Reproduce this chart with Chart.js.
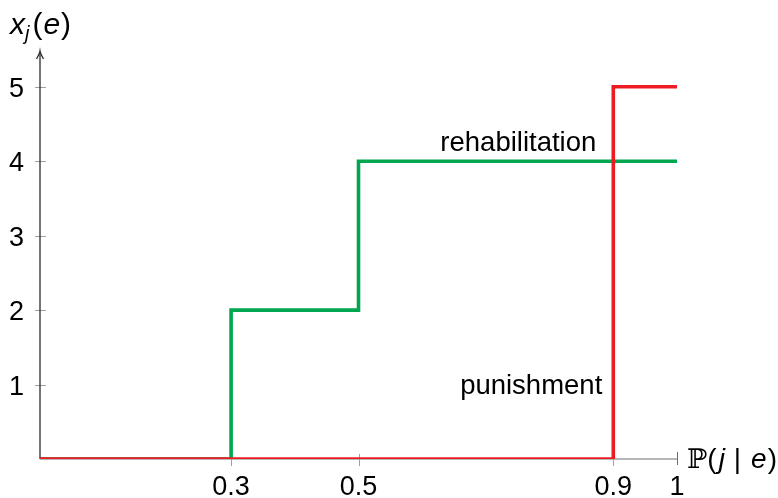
<!DOCTYPE html>
<html>
<head>
<meta charset="utf-8">
<script src="https://cdn.jsdelivr.net/npm/chart.js@4"></script>
<style>
  html, body { margin: 0; padding: 0; background: #ffffff; }
  #chart { display: block; }
</style>
</head>
<body>
<canvas id="chart" width="778" height="498"></canvas>
<script>
// Step breakpoints (probability of guilt) and the sanction level on each step
const rehabBreaks = [0, 0.3, 0.5, 1];
const rehabilitation = [0, 2, 4, 4];
const punishBreaks = [0, 0.9, 1];
const punishment = [0, 5, 5];

// Axis ticks
const xTickValues = [0.3, 0.5, 0.9, 1];
const xTickLabels = ['0.3', '0.5', '0.9', '1'];
const yTickValues = [1, 2, 3, 4, 5];
const yTickLabels = ['1', '2', '3', '4', '5'];

const RED = '#ed1c24';
const GREEN = '#00a650';
const FONT = '"Liberation Sans", Arial, sans-serif';

const toPoints = (xs, ys) => xs.map((x, i) => ({ x: x, y: ys[i] }));

// Axes, ticks, arrow and axis titles drawn on the library's scales
const axesPlugin = {
  id: 'axes',
  beforeDatasetsDraw(chart) {
    const { ctx, chartArea, scales } = chart;
    const xs = scales.x, ys = scales.y;
    const x0 = xs.getPixelForValue(0);
    const y0 = ys.getPixelForValue(0);
    const x1 = xs.getPixelForValue(1);
    ctx.save();
    // x axis
    ctx.strokeStyle = '#6e6e6e';
    ctx.lineWidth = 1.2;
    ctx.beginPath();
    ctx.moveTo(x0, y0);
    ctx.lineTo(x1, y0);
    ctx.stroke();
    // x ticks
    ctx.lineWidth = 1;
    xTickValues.forEach(v => {
      const px = Math.round(xs.getPixelForValue(v)) + 0.5;
      ctx.beginPath();
      if (v === 1) {
        ctx.strokeStyle = '#6e6e6e';
        ctx.moveTo(px, y0 - 7);
        ctx.lineTo(px, y0 + 6);
      } else {
        ctx.strokeStyle = '#a0a0a0';
        ctx.moveTo(px, y0 - 5);
        ctx.lineTo(px, y0 + 7);
      }
      ctx.stroke();
    });
    // y ticks
    ctx.strokeStyle = '#a0a0a0';
    yTickValues.forEach(v => {
      const py = Math.round(ys.getPixelForValue(v)) + 0.5;
      ctx.beginPath();
      ctx.moveTo(x0 - 5, py);
      ctx.lineTo(x0 + 6, py);
      ctx.stroke();
    });
    // y axis with arrow
    const top = chartArea.top - 6;
    ctx.strokeStyle = '#2a2a2a';
    ctx.lineWidth = 1.3;
    ctx.beginPath();
    ctx.moveTo(x0, y0);
    ctx.lineTo(x0, top + 1);
    ctx.stroke();
    ctx.beginPath();
    ctx.moveTo(x0 - 3.5, top + 8);
    ctx.quadraticCurveTo(x0 - 0.5, top + 3, x0, top);
    ctx.quadraticCurveTo(x0 + 0.5, top + 3, x0 + 3.5, top + 8);
    ctx.stroke();
    ctx.restore();
  },
  afterDraw(chart) {
    const { ctx, scales } = chart;
    const xs = scales.x, ys = scales.y;
    const x0 = xs.getPixelForValue(0);
    const y0 = ys.getPixelForValue(0);
    ctx.save();
    ctx.fillStyle = '#000000';
    // tick labels
    ctx.font = '27px ' + FONT;
    ctx.textAlign = 'center';
    ctx.textBaseline = 'alphabetic';
    xTickValues.forEach((v, i) => {
      ctx.fillText(xTickLabels[i], xs.getPixelForValue(v), y0 + 36);
    });
    ctx.textAlign = 'right';
    yTickValues.forEach((v, i) => {
      ctx.fillText(yTickLabels[i], x0 - 16, ys.getPixelForValue(v) + 10);
    });

    // series labels
    ctx.font = '27.5px ' + FONT;
    ctx.textAlign = 'right';
    ctx.fillText('rehabilitation', xs.getPixelForValue(0.9) - 17, ys.getPixelForValue(4) - 10);
    ctx.fillText('punishment', xs.getPixelForValue(0.9) - 11, ys.getPixelForValue(1) + 9);

    // axis titles
    ctx.textAlign = 'left';
    let cx = 10;
    const ty = 34;
    const put = (txt, font, dy) => {
      ctx.font = font;
      ctx.fillText(txt, cx, ty + (dy || 0));
      cx += ctx.measureText(txt).width;
    };
    put('x', 'italic 30px ' + FONT);
    put('j', 'italic 20px ' + FONT, 6);
    cx += 3;
    put('(', '30px ' + FONT);
    cx += 1;
    put('e', 'italic 30px ' + FONT);
    cx += 1;
    put(')', '30px ' + FONT);

    cx = 687;
    const by = y0 + 9;
    put('\u2119', '27px "DejaVu Serif", serif', by - ty);
    put('(', '28px ' + FONT, by - ty);
    cx += 2;
    put('j', 'italic 28px ' + FONT, by - ty);
    cx += 9;
    put('|', '28px ' + FONT, by - ty);
    cx += 10;
    put('e', 'italic 28px ' + FONT, by - ty);
    cx += 1;
    put(')', '28px ' + FONT, by - ty);
    ctx.restore();
  }
};

new Chart(document.getElementById('chart'), {
  type: 'line',
  data: {
    datasets: [
      {
        label: 'rehabilitation',
        data: toPoints(rehabBreaks, rehabilitation),
        borderColor: GREEN,
        borderWidth: 3.6,
        stepped: 'before',
        pointRadius: 0,
        fill: false,
        order: 2
      },
      {
        label: 'punishment',
        data: toPoints(punishBreaks, punishment),
        borderColor: RED,
        borderWidth: 3.6,
        stepped: 'before',
        pointRadius: 0,
        fill: false,
        order: 1
      }
    ]
  },
  options: {
    responsive: false,
    animation: false,
    devicePixelRatio: 1,
    layout: { padding: { left: 40, right: 101, top: 57, bottom: 39 } },
    plugins: {
      legend: { display: false },
      tooltip: { enabled: false }
    },
    scales: {
      x: { type: 'linear', min: 0, max: 1, display: false },
      y: { type: 'linear', min: 0, max: 5.4, display: false }
    },
    elements: { line: { borderCapStyle: 'butt', borderJoinStyle: 'miter' } }
  },
  plugins: [axesPlugin]
});
</script>
</body>
</html>
